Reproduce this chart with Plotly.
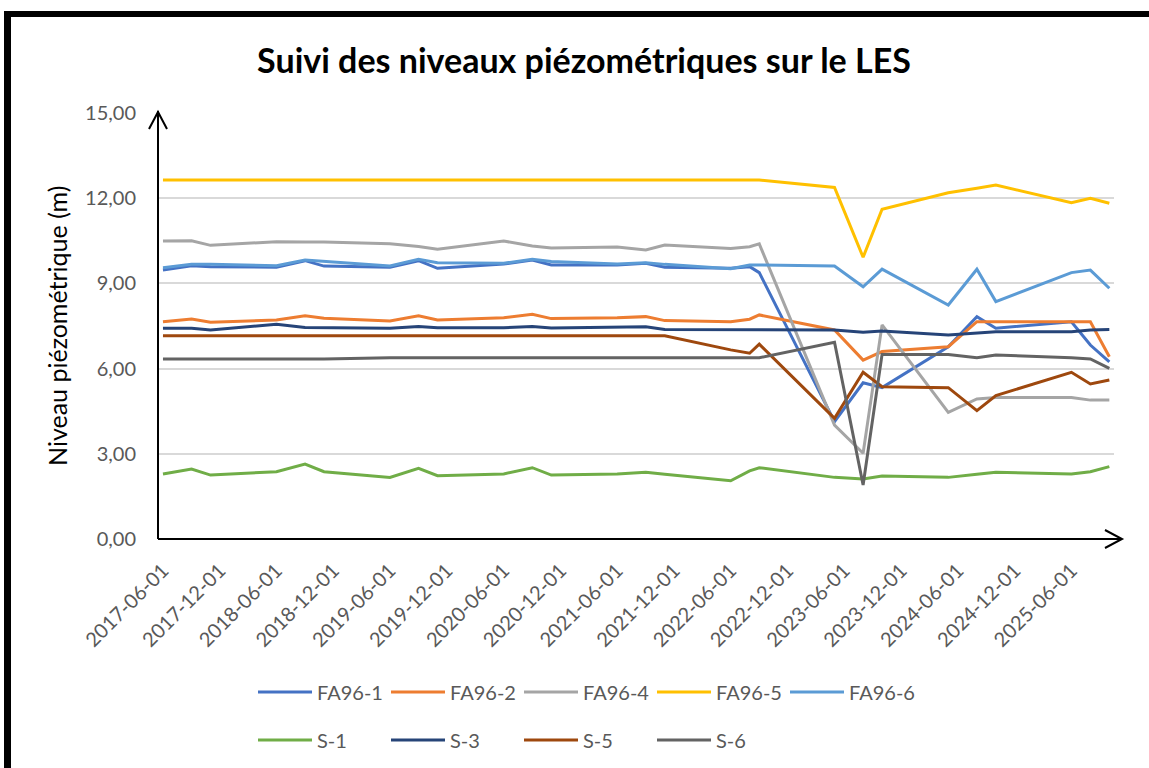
import plotly.graph_objects as go

# ---------------- data ----------------
dates = ["2017-06-01", "2017-09-01", "2017-11-01",
         "2018-06-01", "2018-09-01", "2018-11-01",
         "2019-06-01", "2019-09-01", "2019-11-01",
         "2020-06-01", "2020-09-01", "2020-11-01",
         "2021-06-01", "2021-09-01", "2021-11-01",
         "2022-06-01", "2022-08-01", "2022-09-01",
         "2023-05-01", "2023-08-01", "2023-10-01",
         "2024-05-01", "2024-08-01", "2024-10-01",
         "2025-06-01", "2025-08-01", "2025-10-01"]

fa96_1 = [9.47, 9.62, 9.59, 9.57, 9.80, 9.61, 9.57, 9.80, 9.53, 9.68, 9.82, 9.65, 9.65, 9.71, 9.57,
          9.53, 9.59, 9.38, 4.13, 5.50, 5.33, 6.77, 7.83, 7.42, 7.65, 6.83, 6.24]
fa96_2 = [7.65, 7.75, 7.63, 7.71, 7.86, 7.77, 7.68, 7.86, 7.71, 7.79, 7.91, 7.76, 7.79, 7.83, 7.69,
          7.65, 7.74, 7.89, 7.36, 6.30, 6.60, 6.77, 7.65, 7.65, 7.65, 7.65, 6.42]
fa96_4 = [10.49, 10.50, 10.34, 10.47, 10.46, 10.46, 10.40, 10.30, 10.20, 10.49, 10.32, 10.25, 10.28, 10.18, 10.35,
          10.23, 10.29, 10.39, 4.01, 3.02, 7.54, 4.46, 4.93, 4.98, 4.98, 4.89, 4.89]
fa96_5 = [12.64, 12.64, 12.64, 12.64, 12.64, 12.64, 12.64, 12.64, 12.64, 12.64, 12.64, 12.64, 12.64, 12.64, 12.64,
          12.64, 12.64, 12.64, 12.38, 9.92, 11.61, 12.19, 12.35, 12.46, 11.84, 12.00, 11.82]
fa96_6 = [9.55, 9.67, 9.67, 9.62, 9.82, 9.77, 9.61, 9.85, 9.73, 9.71, 9.85, 9.77, 9.68, 9.73, 9.67,
          9.52, 9.65, 9.65, 9.61, 8.88, 9.50, 8.24, 9.50, 8.36, 9.38, 9.47, 8.83]
s_1 = [2.29, 2.46, 2.25, 2.37, 2.64, 2.37, 2.17, 2.49, 2.23, 2.29, 2.51, 2.25, 2.29, 2.35, 2.28,
       2.05, 2.40, 2.51, 2.17, 2.11, 2.22, 2.17, 2.28, 2.35, 2.29, 2.37, 2.55]
s_3 = [7.42, 7.42, 7.36, 7.56, 7.45, 7.44, 7.42, 7.48, 7.44, 7.44, 7.48, 7.43, 7.44, 7.47, 7.38,
       7.38, 7.36, 7.38, 7.36, 7.28, 7.32, 7.18, 7.24, 7.30, 7.30, 7.36, 7.38]
s_5 = [7.16, 7.16, 7.16, 7.16, 7.16, 7.16, 7.16, 7.16, 7.16, 7.16, 7.16, 7.16, 7.16, 7.16, 7.16,
       6.66, 6.54, 6.86, 4.25, 5.87, 5.36, 5.33, 4.52, 5.05, 5.87, 5.46, 5.60]
s_6 = [6.34, 6.34, 6.34, 6.34, 6.34, 6.34, 6.38, 6.38, 6.38, 6.38, 6.38, 6.38, 6.38, 6.38, 6.38,
       6.38, 6.38, 6.38, 6.93, 1.90, 6.50, 6.50, 6.38, 6.48, 6.38, 6.34, 6.01]

series_names = ["FA96-1", "FA96-2", "FA96-4", "FA96-5", "FA96-6", "S-1", "S-3", "S-5", "S-6"]
series_values = [fa96_1, fa96_2, fa96_4, fa96_5, fa96_6, s_1, s_3, s_5, s_6]
series_colors = ["#4472C4", "#ED7D31", "#A5A5A5", "#FFC000", "#5B9BD5",
                 "#70AD47", "#264478", "#9E480E", "#636363"]

tick_dates = ["2017-06-01", "2017-12-01", "2018-06-01", "2018-12-01", "2019-06-01",
              "2019-12-01", "2020-06-01", "2020-12-01", "2021-06-01", "2021-12-01",
              "2022-06-01", "2022-12-01", "2023-06-01", "2023-12-01", "2024-06-01",
              "2024-12-01", "2025-06-01"]
y_ticks = [0, 3, 6, 9, 12, 15]

title_text = "Suivi des niveaux piézométriques sur le LES"
y_title = "Niveau piézométrique (m)"

# ---------------- layout geometry ----------------
W, H = 1149, 768
ML, MR, MT, MB = 158, 35, 113, 229
PW, PH = W - ML - MR, H - MT - MB


def px(x):
    return (x - ML) / PW


def py(y):
    return (H - MB - y) / PH


FONT = "Lato"
GRAY = "#595959"

fig = go.Figure()
for i, (name, vals, col) in enumerate(zip(series_names, series_values, series_colors)):
    fig.add_trace(go.Scatter(
        x=dates, y=vals, name=name, mode="lines",
        line=dict(color=col, width=3),
        legend="legend" if i < 5 else "legend2",
    ))

legend_common = dict(
    orientation="h", xref="paper", yref="paper", xanchor="left", yanchor="middle",
    font=dict(family=FONT, size=20, color=GRAY), itemwidth=54,
    entrywidth=64, entrywidthmode="pixels", bgcolor="rgba(0,0,0,0)",
    tracegroupgap=0, itemclick=False,
)

shapes = [
    # outer frame (left and top)
    dict(type="line", xref="paper", yref="paper", x0=px(7.5), x1=px(7.5), y0=py(11), y1=py(790),
         line=dict(color="black", width=7)),
    dict(type="line", xref="paper", yref="paper", x0=px(4), x1=px(1160), y0=py(14), y1=py(14),
         line=dict(color="black", width=6)),
    # y axis with arrow
    dict(type="line", xref="paper", yref="paper", x0=0, x1=0, y0=0, y1=py(111),
         line=dict(color="black", width=2)),
    dict(type="path", xref="paper", yref="paper",
         path=f"M {px(149)} {py(129)} L {px(158)} {py(112)} L {px(167)} {py(129)}",
         line=dict(color="black", width=2)),
    # x axis with arrow
    dict(type="line", xref="paper", yref="paper", x0=0, x1=px(1121), y0=0, y1=0,
         line=dict(color="black", width=2)),
    dict(type="path", xref="paper", yref="paper",
         path=f"M {px(1105)} {py(530)} L {px(1122)} {py(539)} L {px(1105)} {py(548)}",
         line=dict(color="black", width=2)),
]

fig.update_layout(
    width=W, height=H,
    margin=dict(l=ML, r=MR, t=MT, b=MB, autoexpand=False),
    paper_bgcolor="white", plot_bgcolor="white",
    separators=", ",
    font=dict(family=FONT, color=GRAY),
    title=dict(text=f"<b>{title_text}</b>", x=px(584), xref="paper", xanchor="center",
               y=1 - 61 / H, yanchor="middle",
               font=dict(family=FONT, size=34, color="black")),
    xaxis=dict(
        type="date", range=["2017-05-16", "2025-10-16"],
        tickmode="array", tickvals=tick_dates, tickformat="%Y-%m-%d",
        tickangle=-45, tickfont=dict(family=FONT, size=20, color=GRAY),
        showgrid=False, showline=False, zeroline=False, ticks="", ticklabelstandoff=15,
    ),
    yaxis=dict(
        range=[0, 15], tickmode="array", tickvals=y_ticks, tickformat=".2f",
        tickfont=dict(family=FONT, size=20, color=GRAY),
        showgrid=True, gridcolor="#D9D9D9", gridwidth=2,
        showline=False, zeroline=False, ticks="", ticklabelstandoff=21,
    ),
    legend=dict(x=px(253), y=py(692), **legend_common),
    legend2=dict(x=px(253), y=py(740), **legend_common),
    shapes=shapes,
    annotations=[dict(text=y_title, xref="paper", yref="paper", x=px(57), y=py(326),
                      xanchor="center", yanchor="middle", textangle=-90, showarrow=False,
                      font=dict(family=FONT, size=25, color="black"))],
)

fig.write_html("out.html", config={"displayModeBar": False},
               post_script="document.body.style.margin='0';")
